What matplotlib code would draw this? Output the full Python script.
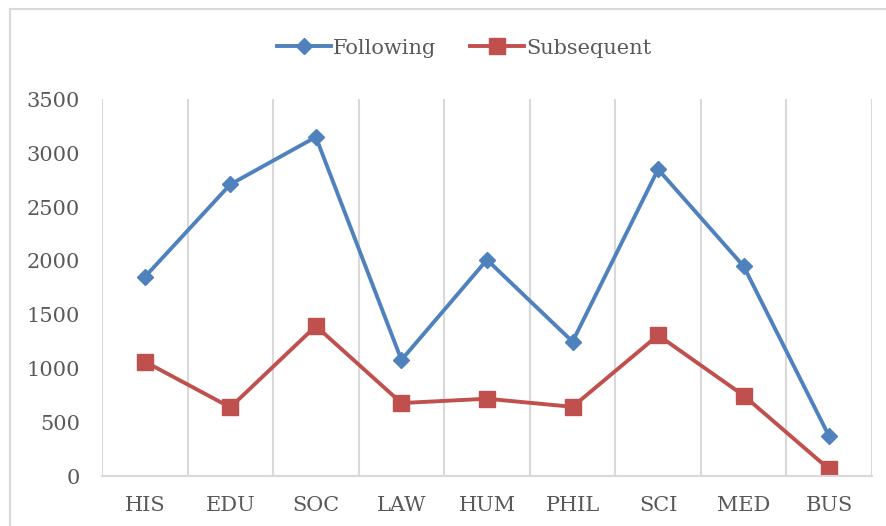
import matplotlib as mpl
mpl.use('Agg')
from matplotlib import pyplot as plt
from matplotlib.lines import Line2D

categories = ['HIS', 'EDU', 'SOC', 'LAW', 'HUM', 'PHIL', 'SCI', 'MED', 'BUS']
following = [1850, 2710, 3150, 1080, 2010, 1250, 2850, 1950, 370]
subsequent = [1065, 640, 1395, 680, 720, 645, 1310, 750, 65]
y_ticks = [0, 500, 1000, 1500, 2000, 2500, 3000, 3500]

BLUE = '#4F81BD'
RED = '#C0504D'
TEXT = '#595959'
GRID = '#D9D9D9'

plt.rcParams['font.family'] = ['DejaVu Serif']

fig = plt.figure(figsize=(8.86, 5.26), dpi=100)
ax = fig.add_axes([0.1151, 0.0945, 0.8691, 0.7167])

# chart area border: only its top and left edges fall inside the picture
bx, by = 10 / 886, 1 - 9 / 526
fig.add_artist(Line2D([bx, 1], [by, by], transform=fig.transFigure, color=GRID, lw=1.5))
fig.add_artist(Line2D([bx, bx], [0, by], transform=fig.transFigure, color=GRID, lw=1.5))

x = list(range(len(categories)))
ax.plot(x, following, color=BLUE, lw=2.8, marker='D', ms=8.3,
        label='Following', solid_joinstyle='miter')
ax.plot(x, subsequent, color=RED, lw=2.8, marker='s', ms=11.5,
        label='Subsequent', solid_joinstyle='miter')

ax.set_xlim(-0.5, len(categories) - 0.5)
ax.set_ylim(0, 3500)
ax.set_yticks(y_ticks)
ax.set_xticks(x)
ax.set_xticklabels(categories)

# vertical gridlines between categories
for b in range(len(categories) + 1):
    ax.axvline(b - 0.5, color=GRID, lw=1.5, zorder=0)

for side in ['left', 'right', 'top']:
    ax.spines[side].set_visible(False)
ax.spines['bottom'].set_color(GRID)
ax.spines['bottom'].set_linewidth(1.5)

ax.tick_params(axis='both', length=0, colors=TEXT, labelsize=15)
ax.tick_params(axis='x', pad=14)
ax.tick_params(axis='y', pad=16)

leg = fig.legend(loc='center', bbox_to_anchor=(464 / 886, 1 - 48 / 526), ncol=2,
                 frameon=False, fontsize=15, handlelength=2.6, columnspacing=1.6,
                 handletextpad=0.1, labelcolor=TEXT)

plt.savefig('out.png', dpi=100)
